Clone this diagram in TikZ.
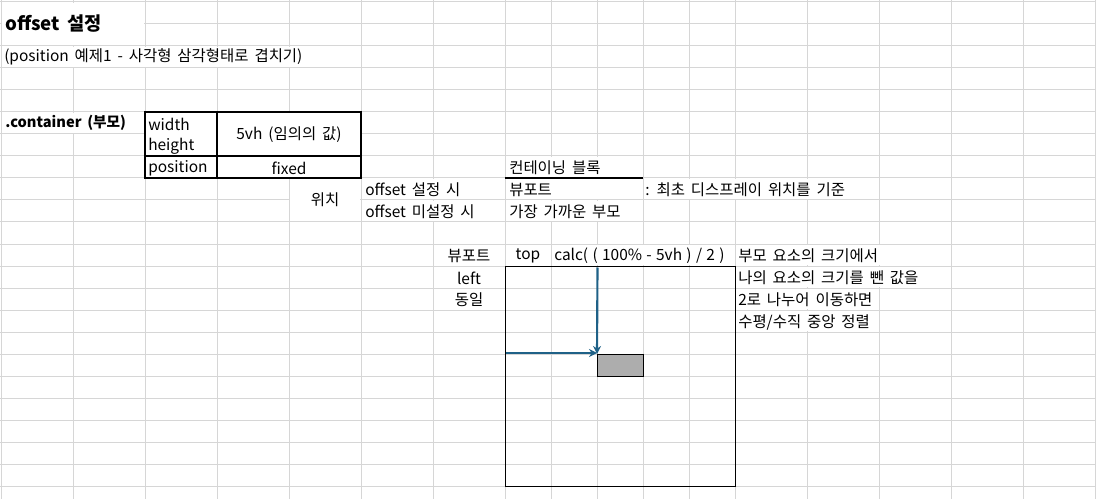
\documentclass[tikz,border=0pt]{standalone}
\usepackage{fontspec}
\setmainfont[WordSpace=1.7]{Noto Sans CJK KR}
\newfontfamily\calcfont[WordSpace=1.25]{Noto Sans CJK KR}
\usetikzlibrary{arrows.meta}
\definecolor{gridc}{RGB}{214,214,214}
\definecolor{arrowc}{RGB}{31,97,135}
\definecolor{boxg}{RGB}{173,173,173}
\begin{document}
\begin{tikzpicture}[x=0.75pt,y=-0.75pt,
  gridline/.style={draw=gridc,line width=0.75pt},
  txt/.style={inner sep=0pt,anchor=west,font=\fontsize{11.6}{13}\selectfont},
  ctxt/.style={inner sep=0pt,anchor=center,font=\fontsize{11.6}{13}\selectfont},
  border/.style={draw=black,line width=0.9pt},
  arr/.style={draw=arrowc,line width=1.6pt,-{Stealth[length=6pt,width=6pt]}}
]
\useasboundingbox (0,0) rectangle (1096,499);
% spreadsheet grid
\foreach \x in {1,73,145,217,289,361,433,505,551,597,643,689,735,807,879,951,1023,1095}
  \draw[gridline] (\x,0) -- (\x,499);
\foreach \k in {0,...,22}
  \draw[gridline] (0,{2+22*\k}) -- (1096,{2+22*\k});
% cells where text overflows (grid hidden)
\foreach \xa/\ya/\xb/\yb in {1/2/145/46, 1/46/361/68, 1/112/145/134,
    289/178/361/222, 361/178/505/200, 361/200/505/222,
    505/156/643/178, 505/178/643/200, 643/178/879/200, 505/200/643/222,
    551/244/735/266, 735/244/951/266, 735/266/951/288, 735/288/879/310, 735/310/879/332}
  \fill[white] ({\xa+0.7},{\ya+0.7}) rectangle ({\xb-0.7},{\yb-0.7});
% property table
\fill[white] (145,112) rectangle (361,178);
\draw[border] (145,112) rectangle (361,178);
\draw[border] (217,112) -- (217,178);
\draw[border] (145,156) -- (361,156);
% underline of containing block header
\draw[border] (505,178) -- (643,178);
% texts
\node[txt,font=\fontsize{14}{16}\selectfont\bfseries] (title) at (5,24) {offset 설정};
\node[txt] (sub) at (4,57) {(position 예제1 - 사각형 삼각형태로 겹치기)};
\node[txt,font=\fontsize{11}{13}\selectfont\bfseries] (cont) at (5,123) {.container (부모)};
\node[txt] (w) at (148,124) {width};
\node[txt] (h) at (148,146) {height};
\node[txt] (p) at (148,168) {position};
\node[ctxt] (v1) at (289,135) {5vh (임의의 값)};
\node[ctxt] (v2) at (289,168) {fixed};
\node[ctxt] (pos) at (325,200) {위치};
\node[txt] (os) at (365,190) {offset 설정 시};
\node[txt] (ons) at (365,212) {offset 미설정 시};
\node[txt] (cb) at (509,168) {컨테이닝 블록};
\node[txt] (vp) at (509,190) {뷰포트};
\node[txt] (vpd) at (645,190) {: 최초 디스프레이 위치를 기준};
\node[txt] (np) at (509,212) {가장 가까운 부모};
\node[ctxt] (vp2) at (469,256) {뷰포트};
\node[ctxt] (top) at (528,256) {top};
\node[txt,font=\calcfont\fontsize{11.6}{13}\selectfont] (calc) at (554,256) {calc( ( 100\% - 5vh ) / 2 )};
\node[ctxt] (left) at (469,278) {left};
\node[ctxt] (same) at (469,300) {동일};
\node[txt] (e1) at (738,256) {부모 요소의 크기에서};
\node[txt] (e2) at (738,278) {나의 요소의 크기를 뺀 값을};
\node[txt] (e3) at (738,300) {2로 나누어 이동하면};
\node[txt] (e4) at (738,322) {수평/수직 중앙 정렬};
% container box and element
\node[border,inner sep=0pt,minimum width=172.5pt,minimum height=165pt,anchor=north west] (box) at (505,266) {};
\node[border,fill=boxg,inner sep=0pt,minimum width=34.5pt,minimum height=16.5pt,anchor=north west] (elem) at (597,354) {};
\coordinate (vstart) at (597.5,267.5);
\coordinate (hstart) at (505.5,353);
\draw[arr] (vstart) -- (elem.north west);
\draw[arr] (hstart) -- (hstart -| elem.north west);
\end{tikzpicture}
\end{document}
